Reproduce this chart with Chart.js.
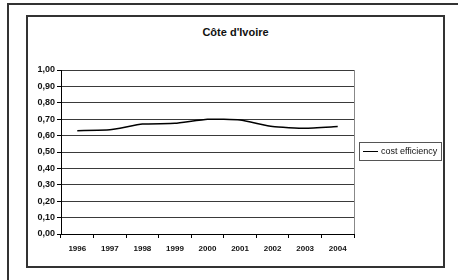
<!DOCTYPE html>
<html lang="fr">
<head>
    <meta charset="UTF-8">
    <title>Côte d'Ivoire</title>
    <script src="https://cdn.jsdelivr.net/npm/chart.js"></script>
    <style>
        body {
            margin: 0;
            background: #fff;
            font-family: 'Liberation Sans', Arial, sans-serif;
        }
        .page {
            position: relative;
            width: 458px;
            height: 280px;
            overflow: hidden;
        }
        .outer {
            position: absolute;
            left: 7px;
            top: 3px;
            width: 480px;
            height: 320px;
            border: 2px solid #333;
        }
        .inner {
            position: absolute;
            left: 26px;
            top: 15px;
            width: 415px;
            height: 249px;
            border: 2px solid #333;
        }
        .title {
            position: absolute;
            left: 27px;
            width: 417px;
            top: 26px;
            text-align: center;
            font-weight: bold;
            font-size: 11px;
            color: #111;
        }
        .legend {
            position: absolute;
            left: 359px;
            top: 142px;
            width: 81px;
            height: 17px;
            border: 1px solid #555;
            font-size: 9px;
            color: #111;
            line-height: 17px;
        }
        .legend .swatch {
            position: absolute;
            left: 3px;
            top: 8px;
            width: 15px;
            border-top: 1.5px solid #000;
        }
        .legend .label {
            position: absolute;
            left: 21px;
            top: 0;
        }
        .chart-wrap {
            position: absolute;
            left: 0;
            top: 0;
            width: 458px;
            height: 280px;
        }
    </style>
</head>
<body>
    <div class="page">
        <div class="outer"></div>
        <div class="inner"></div>
        <div class="title">Côte d'Ivoire</div>
        <div class="chart-wrap"><canvas id="chart"></canvas></div>
        <div class="legend"><span class="swatch"></span><span class="label">cost efficiency</span></div>
    </div>

    <script>
        const years = ['1996', '1997', '1998', '1999', '2000', '2001', '2002', '2003', '2004'];
        const costEfficiency = [0.63, 0.635, 0.67, 0.675, 0.70, 0.695, 0.655, 0.645, 0.655];
        const yTickLabels = ['0,00', '0,10', '0,20', '0,30', '0,40', '0,50', '0,60', '0,70', '0,80', '0,90', '1,00'];

        // right edge of the plot area
        const plotBorder = {
            id: 'plotBorder',
            afterDraw(chart) {
                const { ctx, chartArea } = chart;
                ctx.save();
                ctx.strokeStyle = '#888';
                ctx.lineWidth = 1;
                ctx.beginPath();
                ctx.moveTo(chartArea.right + 0.5, chartArea.top);
                ctx.lineTo(chartArea.right + 0.5, chartArea.bottom);
                ctx.stroke();
                ctx.restore();
            }
        };

        Chart.defaults.font.family = "'Liberation Sans', Arial, sans-serif";
        Chart.defaults.color = '#111';

        new Chart(document.getElementById('chart'), {
            type: 'line',
            data: {
                labels: years,
                datasets: [{
                    label: 'cost efficiency',
                    data: costEfficiency,
                    borderColor: '#000',
                    borderWidth: 1.5,
                    pointRadius: 0,
                    tension: 0.15,
                    fill: false
                }]
            },
            options: {
                responsive: true,
                maintainAspectRatio: false,
                animation: false,
                layout: {
                    padding: { left: 20, top: 70, right: 104, bottom: 22 }
                },
                plugins: {
                    legend: { display: false },
                    tooltip: { enabled: false }
                },
                scales: {
                    x: {
                        offset: true,
                        afterFit: (s) => { s.height = 24; },
                        grid: {
                            offset: true,
                            drawOnChartArea: false,
                            drawTicks: true,
                            tickLength: 4,
                            tickColor: '#000'
                        },
                        border: { color: '#000', width: 1 },
                        ticks: {
                            padding: 6,
                            maxRotation: 0,
                            font: { size: 8, weight: 'bold' }
                        }
                    },
                    y: {
                        min: 0,
                        max: 1,
                        afterFit: (s) => { s.width = 41; },
                        grid: {
                            color: '#3a3a3a',
                            lineWidth: 1,
                            tickLength: 4,
                            tickColor: '#000'
                        },
                        border: { color: '#000', width: 1 },
                        ticks: {
                            stepSize: 0.1,
                            padding: 2,
                            font: { size: 9, weight: 'bold' },
                            callback: (v, i) => yTickLabels[i]
                        }
                    }
                }
            },
            plugins: [plotBorder]
        });
    </script>
</body>
</html>
